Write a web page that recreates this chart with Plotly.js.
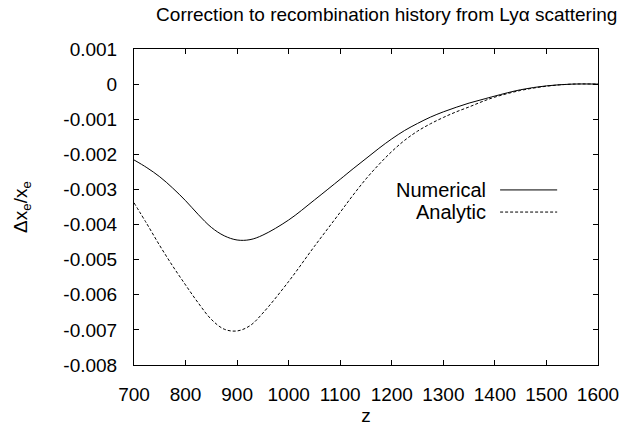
<!DOCTYPE html>
<html>
<head>
<meta charset="utf-8">
<script src="https://cdn.plot.ly/plotly-3.0.1.min.js"></script>
<style>html,body{margin:0;padding:0;background:#fff;}#chart{width:636px;height:428px;}</style>
</head>
<body>
<div id="chart"></div>
<script>
const z = [700, 725, 750, 775, 800, 825, 850, 875, 900, 925, 950, 1000, 1050, 1100, 1125, 1150, 1175, 1200, 1225, 1250, 1275, 1300, 1325, 1350, 1375, 1400, 1450, 1500, 1550, 1600];
const numerical = [-0.00216, -0.00238, -0.00264, -0.00296, -0.00332, -0.00372, -0.00408, -0.00432, -0.00444, -0.00443, -0.00430, -0.00387, -0.00330, -0.00271, -0.00241, -0.00212, -0.00183, -0.00156, -0.00132, -0.00112, -0.00094, -0.00079, -0.00066, -0.00054, -0.00044, -0.00034, -0.00016, -0.00005, 0, 0];
const analytic = [-0.00338, -0.00398, -0.00460, -0.00518, -0.00572, -0.00624, -0.00670, -0.00698, -0.00703, -0.00688, -0.00652, -0.00562, -0.00462, -0.00365, -0.00316, -0.00270, -0.00229, -0.00192, -0.00160, -0.00134, -0.00113, -0.00095, -0.00079, -0.00065, -0.00050, -0.00037, -0.00018, -0.00006, 0, 0];
const yTickVals = [0.001, 0, -0.001, -0.002, -0.003, -0.004, -0.005, -0.006, -0.007, -0.008];
const yTickText = ["0.001", "0", "-0.001", "-0.002", "-0.003", "-0.004", "-0.005", "-0.006", "-0.007", "-0.008"];
const xTickVals = [700, 800, 900, 1000, 1100, 1200, 1300, 1400, 1500, 1600];
const seriesNames = ["Numerical", "Analytic"];

const font = "Liberation Sans, Arial, sans-serif";
const fs = 19;
const traces = [
  {x: z, y: numerical, name: seriesNames[0], mode: "lines", line: {color: "#000", width: 1, shape: "spline"}},
  {x: z, y: analytic, name: seriesNames[1], mode: "lines", line: {color: "#000", width: 1, shape: "spline", dash: "3px,2px"}}
];
const legY = [0.554, 0.484];
const layout = {
  width: 636, height: 428,
  margin: {l: 134, r: 38, t: 49, b: 63},
  paper_bgcolor: "#fff", plot_bgcolor: "#fff",
  showlegend: false,
  font: {family: font, color: "#000", size: fs},
  title: {text: "Correction to recombination history from Ly\u03b1 scattering", font: {size: 19, family: font, color: "#000"},
          xref: "container", x: 0.608, xanchor: "center", yref: "container", y: 0.967, yanchor: "middle"},
  xaxis: {range: [700, 1600], tickvals: xTickVals, ticks: "inside", ticklen: 5, tickcolor: "#000",
          showline: true, linecolor: "#000", linewidth: 1, mirror: "ticks", showgrid: false, zeroline: false,
          ticklabelstandoff: 12,
          tickfont: {size: fs}, title: {text: "z", font: {size: fs}, standoff: 0}},
  yaxis: {range: [-0.008, 0.001], tickvals: yTickVals, ticktext: yTickText, ticks: "inside", ticklen: 5, tickcolor: "#000",
          showline: true, linecolor: "#000", linewidth: 1, mirror: "ticks", showgrid: false, zeroline: false,
          ticklabelstandoff: 12,
          tickfont: {size: fs}, title: {text: "\u0394x<sub>e</sub>/x<sub>e</sub>", font: {size: fs}, standoff: 30}},
  annotations: seriesNames.map((n, i) => ({text: n, xref: "paper", yref: "paper", x: 0.763, y: legY[i], xanchor: "right", yanchor: "middle", showarrow: false, font: {size: 20}})),
  shapes: seriesNames.map((n, i) => ({type: "line", xref: "paper", yref: "paper", x0: 0.789, x1: 0.912, y0: legY[i], y1: legY[i],
          line: {color: "#000", width: 1, dash: i === 0 ? "solid" : "3px,2px"}}))
};
Plotly.newPlot("chart", traces, layout, {staticPlot: true});
</script>
</body>
</html>
